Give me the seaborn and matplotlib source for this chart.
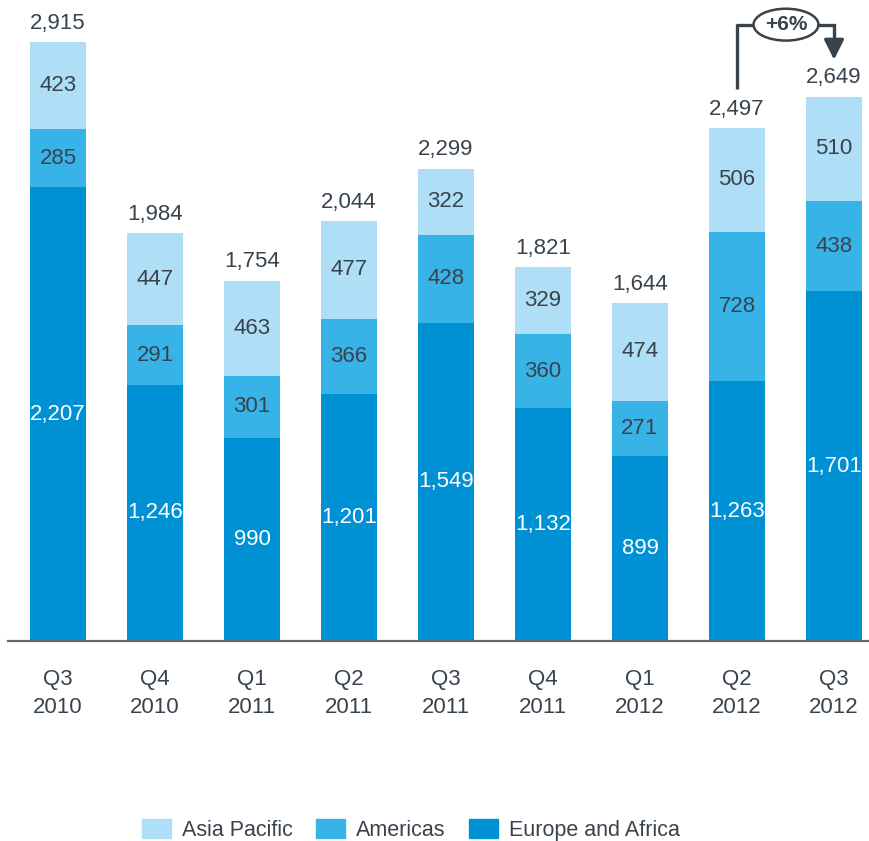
import matplotlib
matplotlib.use("Agg")
import matplotlib.pyplot as plt
from matplotlib.patches import Patch, Ellipse
import seaborn as sns
import pandas as pd

quarters = ["Q3\n2010", "Q4\n2010", "Q1\n2011", "Q2\n2011", "Q3\n2011",
            "Q4\n2011", "Q1\n2012", "Q2\n2012", "Q3\n2012"]
europe_africa = [2207, 1246, 990, 1201, 1549, 1132, 899, 1263, 1701]
americas = [285, 291, 301, 366, 428, 360, 271, 728, 438]
asia_pacific = [423, 447, 463, 477, 322, 329, 474, 506, 510]
totals = [2915, 1984, 1754, 2044, 2299, 1821, 1644, 2497, 2649]
growth_label = "+6%"

c_asia = "#AEDFF6"
c_amer = "#38B3E8"
c_eur = "#0091D5"
c_text = "#38434D"

sns.set_theme(style="white")
plt.rcParams["font.family"] = ["Liberation Sans", "DejaVu Sans"]

df = pd.DataFrame({
    "quarter": quarters,
    "eur": europe_africa,
    "amer": americas,
    "asia": asia_pacific,
})
df["eur_amer"] = df["eur"] + df["amer"]
df["all"] = df["eur_amer"] + df["asia"]

fig = plt.figure(figsize=(8.70, 8.41), dpi=100)
ax = fig.add_axes([8 / 870, (841 - 641) / 841, 862 / 870, 641 / 841])

bw = 0.577
# stacked bars drawn as overlapping cumulative layers
sns.barplot(data=df, x="quarter", y="all", color=c_asia, width=bw,
            saturation=1, ax=ax, linewidth=0)
sns.barplot(data=df, x="quarter", y="eur_amer", color=c_amer, width=bw,
            saturation=1, ax=ax, linewidth=0)
sns.barplot(data=df, x="quarter", y="eur", color=c_eur, width=bw,
            saturation=1, ax=ax, linewidth=0)

fs = 16
for i in range(len(quarters)):
    e, a, p = europe_africa[i], americas[i], asia_pacific[i]
    ax.text(i, e / 2, f"{e:,}", ha="center", va="center", color="white", fontsize=fs)
    ax.text(i, e + a / 2, f"{a:,}", ha="center", va="center", color=c_text, fontsize=fs)
    ax.text(i, e + a + p / 2, f"{p:,}", ha="center", va="center", color=c_text, fontsize=fs)
    ax.annotate(f"{totals[i]:,}", (i, e + a + p), xytext=(0, 13.5),
                textcoords="offset points", ha="center", va="center",
                color=c_text, fontsize=fs)

ax.set_xlim(-0.515, 8.371)
ax.set_ylim(0, 3119)
ax.set_xlabel("")
ax.set_ylabel("")
ax.set_yticks([])
ax.tick_params(axis="x", length=0, pad=20, labelsize=fs, labelcolor=c_text)
for lbl in ax.get_xticklabels():
    lbl.set_linespacing(1.45)
for s in ["top", "right", "left"]:
    ax.spines[s].set_visible(False)
ax.spines["bottom"].set_color("#5F6B75")
ax.spines["bottom"].set_linewidth(1.6)

# growth bracket from Q2 2012 to Q3 2012
x0, x1 = 7, 8
y_start = totals[7] + 190
y_top = totals[8] + 350
y_tip = totals[8] + 166
lc = "#37424A"
lw = 2.4
ex_left, ex_right = 7.17, 7.84
ax.plot([x0, x0, ex_left], [y_start, y_top, y_top], color=lc, lw=lw,
        solid_capstyle="butt", clip_on=False)
ax.plot([ex_right, x1, x1], [y_top, y_top, y_tip + 60], color=lc, lw=lw,
        solid_joinstyle="miter", clip_on=False)
ax.annotate("", xy=(x1, y_tip), xytext=(x1, y_tip + 80),
            arrowprops=dict(arrowstyle="-|>,head_length=1.0,head_width=0.5",
                            color=lc, lw=lw), annotation_clip=False)
ax.add_patch(Ellipse(((ex_left + ex_right) / 2, y_top), ex_right - ex_left, 155,
                     facecolor="white", edgecolor=lc, lw=1.8, clip_on=False))
ax.text((ex_left + ex_right) / 2, y_top, growth_label, ha="center", va="center",
        fontsize=15, fontweight="bold", color=lc)

handles = [Patch(color=c_asia, label="Asia Pacific"),
           Patch(color=c_amer, label="Americas"),
           Patch(color=c_eur, label="Europe and Africa")]
fig.legend(handles=handles, loc="center", bbox_to_anchor=(411 / 870, 1 - 830 / 841),
           ncol=3, frameon=False, fontsize=15.5, handlelength=1.35, handleheight=1.0,
           handletextpad=0.5, columnspacing=1.1, labelcolor=c_text)

fig.savefig("out.png", dpi=100)
